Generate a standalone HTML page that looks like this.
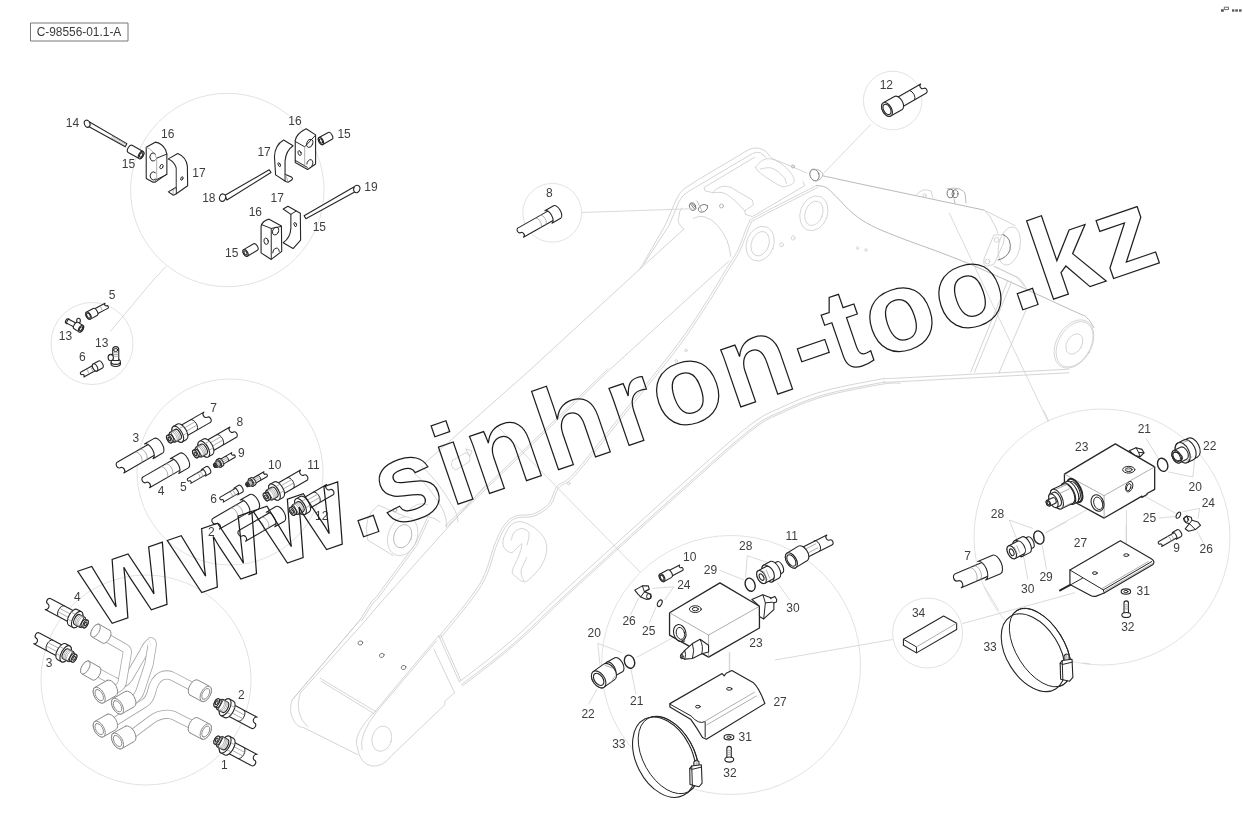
<!DOCTYPE html>
<html><head><meta charset="utf-8"><title>C-98556-01.1-A</title>
<style>
html,body{margin:0;padding:0;background:#fff;}
body{width:1243px;height:825px;overflow:hidden;position:relative;font-family:"Liberation Sans",sans-serif;}
svg{position:absolute;left:0;top:0;display:block;will-change:transform;opacity:.999}
svg text{font-family:"Liberation Sans",sans-serif;}
svg text.wm{font-family:"Liberation Sans",sans-serif;font-weight:bold;fill:none;stroke:#1c1c1c;stroke-width:1.25;stroke-linejoin:miter}
path,ellipse,circle,rect,line,polyline{vector-effect:non-scaling-stroke}
.lbl{font-size:12px;fill:#3e3e3e;}
.boom path,.boom ellipse,.boom circle{fill:none;stroke:#cacaca;stroke-width:.8;stroke-linecap:round;stroke-linejoin:round}
.boom .g2{stroke:#a8a8a8}
.boom .g3{stroke:#6a6a6a;stroke-width:.9}
.c{fill:none;stroke:#dadada;stroke-width:.8}
.l{fill:none;stroke:#d0d0d0;stroke-width:0.8}
.d{fill:#fff;stroke:#262626;stroke-width:1.1;stroke-linejoin:round;stroke-linecap:round}
.dn{fill:none;stroke:#262626;stroke-width:1;stroke-linejoin:round;stroke-linecap:round}
.t{fill:none;stroke:#8c8c8c;stroke-width:0.7;stroke-linecap:round}
.m{fill:#fff;stroke:#8a8a8a;stroke-width:1;stroke-linejoin:round;stroke-linecap:round}
</style></head><body>
<svg width="1243" height="825" viewBox="0 0 1243 825">
<rect width="1243" height="825" fill="#fff"/>
<rect x="30.5" y="23" width="97.5" height="18" fill="#fff" stroke="#777" stroke-width="1"/>
<text x="79" y="36.3" text-anchor="middle" font-size="11.9" fill="#3a3a3a">C-98556-01.1-A</text>
<circle class="c" cx="227.3" cy="190" r="96.7"/>
<circle class="c" cx="92" cy="343.5" r="41"/>
<circle class="c" cx="230" cy="472" r="93"/>
<circle class="c" cx="146" cy="680" r="105"/>
<circle class="c" cx="552.2" cy="212.8" r="29.4"/>
<circle class="c" cx="892.7" cy="100.5" r="29.3"/>
<circle class="c" cx="731" cy="665" r="129.5"/>
<circle class="c" cx="1102" cy="537" r="128"/>
<circle class="c" cx="927.6" cy="633" r="35"/>
<g class="boom"><path class="d" d="M360,620 L292.1,700 Q288,712 294.5,721.8 Q298,727 304.2,727.8 L357.5,754.5"/><path class="d" d="M366,620 L300.6,692.7 Q296,705 300.6,716.9 Q303,723 307.9,726.6"/><path class="d" d="M320,678.2 L375.7,711.6 M321,681.2 L374,713.6"/><path class="d" d="M438.7,635.8 L374.5,712.1 Q352,735 357.5,748 Q360,764 372.1,766.1 Q383,767 391.5,755.7 L444.8,704.8 L444.8,701.2 L454.5,692.7"/><path class="d" d="M436.5,641 L378,710 Q358,735 362,750"/><ellipse class="d" cx="381.8" cy="738.7" rx="9.7" ry="12.8" transform="rotate(15 381.8 738.7)"/><path class="d" d="M438.7,635.8 L459.3,681.8 M440.6,634.8 L461,680.5 M433.9,649.1 L454.5,692.7"/><path class="g" d="M292.1,700 L343,640 L360,620"/><path class="g" d="M360,620 L371.7,601.2 L376.1,597.3 L415.3,544 L426.9,518.8 L430.8,513"/><path class="g" d="M361.5,621 L373,603 L377.5,599 L417,545 L428.5,520"/><path class="g" d="M366,620 L378.5,605 L485.1,485.8"/><path class="g" d="M459.3,681.8 C468.1,674.8 493.8,656 512.2,640 C530.7,624 540.9,612.4 570,585.7 C599.1,559 656.7,506.7 686.6,480 C716.5,453.3 734,437.4 749.6,425.4 C765.2,413.4 767.9,413.6 780,408 C792.1,402.4 805.6,396.3 822.3,391.5 C839,386.7 867,381.6 880,379.3 C893,377.1 868.5,379.7 900,378 C931.5,376.3 1040.6,370.7 1068.7,369.2"/><path class="g" d="M461.5,684.6 C470.4,677.6 496.1,658.8 514.6,642.7 C533,626.7 543.4,615 572.4,588.4 C601.5,561.7 659.1,509.4 689,482.7 C718.9,456 736.4,440.2 751.8,428.3 C767.2,416.3 769.6,416.8 781.5,411.3 C793.4,405.7 806.8,399.7 823.3,395 C839.8,390.2 867.8,385.1 880.6,382.8 C893.4,380.6 868.8,383.3 900.2,381.6 C931.6,379.9 1040.8,374.3 1068.9,372.8"/><path class="g" d="M462.5,685.9 C471.4,678.9 497.1,660 515.6,643.9 C534.1,627.9 544.4,616.2 573.5,589.5 C602.6,562.9 660.2,510.5 690.1,483.9 C719.9,457.2 737.4,441.4 752.8,429.5 C768.1,417.7 770.4,418.2 782.2,412.7 C794,407.2 807.3,401.2 823.7,396.5 C840.2,391.8 868.1,386.6 880.9,384.4 C893.6,382.2 897,383.4 900.3,383.2"/><ellipse class="d" cx="402.7" cy="536.2" rx="14.5" ry="20" transform="rotate(20 402.7 536.2)"/><path class="d" d="M378.5,505.2 Q362,516 367.8,540.1 L393,555.5 M378.5,505.2 L405,516.5"/><circle class="g2" cx="395" cy="510" r="1.8"/><ellipse class="g2" cx="402.7" cy="536.2" rx="8.7" ry="12" transform="rotate(20 402.7 536.2)"/><path class="g" d="M421,466 Q436,478 452,505 Q458,515 458,522"/><path class="g" d="M414,473 Q428,484 442,508 Q448,520 446,527"/><path class="d" d="M407,512 Q418,500 428,505 M415,520 Q428,512 440,522"/><path class="d" d="M452.5,460.5 L466,452.5 Q472,456 469,462 L456,470 Q449,467 452.5,460.5 Z"/><path d="M466,449 L472,451 L470,456 Z" fill="#8a8a8a" stroke="#8a8a8a" stroke-width="1"/><path class="g" d="M425,463 L530,370 L641,268 L684,229"/><path class="g" d="M446.5,527 L609.4,370 L729,261"/><path class="g" d="M445.3,525.7 L608.2,368.7"/><path class="g" d="M438.6,637 C445.4,628.3 469.9,600.2 479.3,584.7 C488.7,569.2 490.6,554 494.8,544 C499,534 500.9,529.3 504.5,524.6 C508.1,519.9 511.2,517.7 516.1,515.9 C521,514.1 528.1,516 533.6,513.9 C539.1,511.8 545.2,507.9 549.1,503.3 C553,498.7 552.8,491.4 557,486.3 C561.2,481.2 563.1,485.5 574.5,472.8 C585.9,460.1 608.4,431 625.3,410 C642.2,389 662.5,364.5 675.7,346.9 C689,329.3 696.4,317.2 704.8,304.3 C713.2,291.4 720.6,278.4 726.1,269.4 C731.6,260.3 734,257.7 737.8,250 C741.5,242.3 745.5,229 748.6,223.4 C751.7,217.8 745,222.9 756.3,216.6 C767.6,210.3 806.4,190.8 816.4,185.6"/><path class="g" d="M440.3,638.4 C447.1,629.6 471.8,601.4 481.2,585.8 C490.6,570.3 492.7,554.8 496.8,544.9 C501,534.9 502.9,530.4 506.3,525.9 C509.6,521.4 512.2,519.6 516.9,518 C521.5,516.3 528.7,518.2 534.4,516 C540,513.7 546.7,509.4 550.8,504.7 C554.8,500 554.5,492.8 558.7,487.7 C562.9,482.6 564.8,487 576.1,474.3 C587.5,461.5 610.1,432.4 627,411.4 C643.9,390.4 664.2,365.9 677.5,348.2 C690.7,330.6 698.2,318.4 706.6,305.5 C715.1,292.6 722.5,279.6 728,270.5 C733.5,261.5 736,258.6 739.8,251 C743.5,243.3 747.6,229.9 750.5,224.5 C753.5,219.1 746.2,224.7 757.4,218.5 C768.5,212.4 807.4,192.7 817.4,187.6"/><path class="g" d="M503.5,538.2 C504.6,536.1 507.4,528.4 510.3,525.6 C513.2,522.9 516.8,521.2 521,521.7 C525.2,522.2 531.5,525.4 535.5,528.5 C539.5,531.6 543.4,535.9 545.2,540.1 C547,544.3 547,549.2 546.2,553.7 C545.4,558.2 543.1,563 540.4,567.2 C537.6,571.4 532.5,576.5 529.7,578.9 C527,581.3 526.2,582.1 523.9,581.8 C521.6,581.5 518,578.7 516.1,576.9 C514.2,575.1 511.7,574.6 512.2,571.1 C512.7,567.6 517.4,560.1 519,555.6 C520.6,551.1 522,545.5 521.9,544 C521.8,542.5 519.9,545.4 518.1,546.9 C516.3,548.4 513.7,552.7 511.3,552.7 C508.9,552.7 504.8,549.3 503.5,546.9 C502.2,544.5 503.5,539.7 503.5,538.2"/><path class="g" d="M511.3,540.1 C511.8,538.8 512.4,534.2 514.2,532.3 C516,530.4 519.4,528.4 521.9,528.5 C524.4,528.6 528.1,530.2 529,533 C529.9,535.8 527.3,543 527,545"/><path class="g" d="M526.8,557.6 C525.8,559.9 521.5,567.2 521,571.1 C520.5,575 523.5,579.4 524,581"/><circle class="g" cx="685.8" cy="350.4" r="1.3"/><circle class="g" cx="676.3" cy="360.9" r="1.3"/><circle class="g" cx="568.7" cy="483.4" r="1.3"/><ellipse class="g3" cx="360.4" cy="643" rx="2.4" ry="2" transform="rotate(-20 360.4 643)"/><ellipse class="g3" cx="381.8" cy="655.4" rx="2.4" ry="2" transform="rotate(-20 381.8 655.4)"/><ellipse class="g3" cx="403.6" cy="667.5" rx="2.4" ry="2" transform="rotate(-20 403.6 667.5)"/><path class="d" d="M640,268.9 L665.2,225.3 L676.8,198.2 Q680,192 684.6,188.5 L698.2,179.7 L748.6,149.7 Q753,147.5 758.3,148.1 Q763,149 766,151.6 L771.8,158.4 L793.2,167.1 L806.7,173"/><path class="d" d="M643.9,264 L669.1,225.3 L678.8,202 Q682,195 688.5,191.4 L752.4,153.6 Q757,151.5 760.2,152.6 L766,157.4"/><path class="d" d="M754.4,157.4 L704,187.5 L705,190.8 L712.7,192.7 Q716,188 721.4,186.5 Q726,185.5 731.1,187.5 L752.4,200.1 L753.4,204.9 L744.7,210.8 L745.7,214.6 L752.4,216.6 L804.8,185.6 L802.9,181.7"/><path class="d" d="M712.7,192.7 Q717,192 722,192.5 Q730,194 744.7,210.8"/><path class="g" d="M755.4,167.1 C756.9,165.8 760.7,160.5 764.1,159.4 C767.5,158.3 771.5,158.5 775.7,160.4 C779.9,162.3 786.2,167.4 789.3,171 C792.4,174.6 794.8,179.1 794.1,181.7 C793.5,184.3 788.1,186 785.4,186.5 C782.7,187 781.9,186.8 777.7,184.6 C773.5,182.3 763.9,175.9 760.2,173 C756.5,170.1 756.2,168.1 755.4,167.1"/><path class="g" d="M760.2,169.1 C762.1,168.9 767.9,166.8 771.8,168.1 C775.7,169.4 781.1,174.2 783.5,176.8 C785.9,179.4 785.9,182.5 786.4,183.6"/><path class="d" d="M683.6,229.2 Q676,222 678.8,217.6 Q679,211 681.7,207.9"/><path class="d" d="M693.3,218.5 Q698,215.5 704,216.6 Q712,219 717.5,225.3 Q724,233 727.2,240.8 Q730,249 730.7,256.3"/><ellipse class="d" cx="760.2" cy="243.7" rx="13.6" ry="17.8" transform="rotate(20 760.2 243.7)"/><ellipse class="d" cx="760.2" cy="243.7" rx="8.7" ry="12.6" transform="rotate(20 760.2 243.7)"/><ellipse class="d" cx="813.9" cy="213.3" rx="13.6" ry="17.8" transform="rotate(20 813.9 213.3)"/><ellipse class="d" cx="813.9" cy="213.3" rx="8.7" ry="12.6" transform="rotate(20 813.9 213.3)"/><ellipse class="g" cx="781.5" cy="244.7" rx="1.8" ry="2.2" transform="rotate(20 781.5 244.7)"/><ellipse class="g" cx="793.2" cy="237.9" rx="1.8" ry="2.2" transform="rotate(20 793.2 237.9)"/><ellipse class="g" cx="857.5" cy="248" rx="1.1" ry="1.4" transform="rotate(20 857.5 248)"/><ellipse class="g" cx="865.9" cy="249.9" rx="1.1" ry="1.4" transform="rotate(20 865.9 249.9)"/><ellipse class="g3" cx="692.6" cy="206.6" rx="3" ry="4" transform="rotate(-20 692.6 206.6)"/><path class="g3" d="M690.5,204 L694.5,209 M692,203.5 L696,208"/><ellipse class="g3" cx="703" cy="208.3" rx="5" ry="3.4" transform="rotate(-30 703 208.3)"/><path class="g2" d="M697,201 L702,211"/><circle class="g2" cx="721.5" cy="206" r="2"/><ellipse class="g3" cx="814.5" cy="175" rx="4.5" ry="6" transform="rotate(-20 814.5 175)"/><path class="g2" d="M812,170 Q820,168 823,174 Q822,180 816,181"/><circle class="g2" cx="793" cy="166.5" r="1.5"/><path class="g2" d="M823.2,175.9 L860,183.9 L984.1,210.1"/><path class="g2" d="M816.4,185.6 C818,185.9 822.9,185.7 826.1,187.5 C829.3,189.3 831.3,191.8 835.8,196.2 C840.3,200.6 847.3,208.8 853.3,213.7 C859.3,218.6 864,221.7 871.6,225.6 C879.2,229.5 882.3,230.7 898.8,237.2 C915.3,243.7 941.8,252.3 970.5,264.4 C999.2,276.5 1052,301.2 1071.3,310 C1090.6,318.8 1082.3,314 1086.1,316.9 C1089.9,319.8 1092.6,325.8 1093.9,327.6"/><path class="d" d="M984.1,210.1 Q991,216 993.8,223.7 Q997,229 997.7,233.4"/><path class="d" d="M993.8,235.3 L984.1,258.6 Q983,266 986,266.3 L993.8,264.4 L1003.5,243.1 L1004.4,235.3 Z"/><circle class="g" cx="996.7" cy="239.8" r="2.4"/><circle class="g" cx="987.4" cy="261.5" r="2.4"/><ellipse class="d" cx="1009.3" cy="246" rx="10.7" ry="19.4" transform="rotate(12 1009.3 246)"/><path class="g3" d="M1003,234.5 Q1012,238 1010,250 Q1007,258 998,260"/><path class="d" d="M986,211.1 L1015.1,225.6 M993.8,266.3 L1019,278 Q1024,283 1026.7,289.6 M995,266.5 L1016.3,277.1 Q1021,281 1024.1,285.9"/><path class="d" d="M916,195.5 Q922,187 931,191 L933,198"/><circle class="g" cx="924.5" cy="195.5" r="1.6"/><ellipse class="g3" cx="950.5" cy="193.5" rx="3.4" ry="4.2"/><ellipse class="g3" cx="955" cy="193.8" rx="3" ry="4"/><path class="g2" d="M947,189 Q960,186 965,193 L966,203 M954,199 L955,203"/><path class="d" d="M1007.6,281 L970.8,372.1 M1011.5,282 L974.6,372.1 M1026,310.1 L998.9,373.1"/><ellipse class="d" cx="1074" cy="344" rx="17.4" ry="26" transform="rotate(30 1074 344)"/><ellipse class="d" cx="1074.6" cy="344.3" rx="16" ry="24.5" transform="rotate(30 1074.6 344.3)"/><ellipse class="d" cx="1074.3" cy="344" rx="7.5" ry="11" transform="rotate(30 1074.3 344)"/></g>
<path class="l" d="M581.6,212.5 L692.4,208.7"/>
<path class="l" d="M871,124.2 L823.4,173.5"/>
<path class="l" d="M949.2,213 L1048,421.4"/>
<path class="l" d="M497,426 L640,572"/>
<path class="l" d="M775,660 L892.6,639.5"/>
<g transform="translate(60,100) scale(0.14540)">
<path class="d" d="M203,151 L460,300 L449,322 L197,182 Z"/>
<path class="t" d="M360,250 L452,304 M352,260 L447,314"/>
<ellipse class="d" cx="187" cy="163" rx="19" ry="25" transform="rotate(-20 187 163)"/>
<path class="d" d="M468.5,360.5 L544.5,402.5 A28,15.4 118.9 0 0 571.5,353.5 L495.5,311.5 A28,15.4 118.9 0 0 468.5,360.5 Z"/><ellipse class="d" cx="558" cy="378" rx="28" ry="15.4" transform="rotate(118.9 558 378)"/><ellipse class="d" cx="558" cy="378" rx="16.8" ry="9.2" transform="rotate(118.9 558 378)"/>
<path class="d" d="M593,325 L655,290 Q700,296 726,342 L735,372 L735,510 L655,565 L640,565 L593,540 Z"/>
<path class="dn" d="M665,400 L735,372 M655,552 L735,512"/>
<path class="t" d="M665,400 L665,545 M593,325 Q640,340 665,400"/>
<path class="dn" d="M656,372 A22,28 0 1 0 656,412 M656,500 A22,28 0 1 0 656,544"/>
<ellipse class="dn" cx="698" cy="458" rx="10" ry="16" transform="rotate(25 698 458)"/>
<path class="d" d="M745,405 L810,368 Q868,392 876,455 L878,590 L800,645 L780,655 L745,632 L790,605 L800,600 L800,470 Q790,425 745,405 Z"/>
<path class="dn" d="M800,600 L800,645"/>
<path class="t" d="M790,605 Q768,625 780,655 M800,470 L800,600"/>
<ellipse class="dn" cx="838" cy="540" rx="7" ry="13" transform="rotate(25 838 540)"/>
</g>
<g transform="translate(200,100) scale(0.14540)">
<path class="d" d="M172,655 L476,480 L488,498 L185,688 Z"/>
<ellipse class="d" cx="155" cy="672" rx="21" ry="26" transform="rotate(20 155 672)"/>
<path class="d" d="M1058,598 L716,796 L728,816 L1070,630 Z"/>
<ellipse class="d" cx="1078" cy="612" rx="21" ry="26" transform="rotate(20 1078 612)"/>
<path class="d" d="M575,275 L640,315 Q590,350 585,420 L585,510 L632,532 Q648,548 605,565 L590,560 L520,515 L512,390 Q515,310 575,275 Z"/>
<path class="dn" d="M585,510 L585,556"/>
<path class="t" d="M585,510 Q602,540 605,565"/>
<ellipse class="dn" cx="545" cy="445" rx="7" ry="15" transform="rotate(-25 545 445)"/>
<path class="d" d="M655,278 Q662,232 730,198 L795,240 L795,440 L740,478 L655,430 Z"/>
<path class="dn" d="M655,285 L720,322 L795,242 M655,415 L738,463"/>
<path class="t" d="M720,322 L720,466"/>
<ellipse class="dn" cx="755" cy="298" rx="20" ry="29" transform="rotate(20 755 298)"/>
<path class="dn" d="M735,440 A20,27 20 1 1 770,452"/>
<ellipse class="dn" cx="685" cy="365" rx="10" ry="17" transform="rotate(-20 685 365)"/>
<path class="d" d="M881.9,223.4 L818.9,258.4 A27,14.9 -119.1 0 0 845.1,305.6 L908.1,270.6 A27,14.9 -119.1 0 0 881.9,223.4 Z"/><ellipse class="d" cx="832" cy="282" rx="27" ry="14.9" transform="rotate(-119.1 832 282)"/><ellipse class="d" cx="832" cy="282" rx="16.2" ry="8.9" transform="rotate(-119.1 832 282)"/>
</g>
<g transform="translate(200,170) scale(0.14540)">
<path class="d" d="M420,388 Q428,350 475,338 L560,385 L562,560 L490,615 L420,570 Z"/>
<path class="dn" d="M422,375 L490,402 L560,388 M490,402 L490,612"/>
<ellipse class="dn" cx="520" cy="420" rx="20" ry="28" transform="rotate(20 520 420)"/>
<path class="dn" d="M500,570 A20,27 20 1 1 545,560"/>
<ellipse class="dn" cx="455" cy="490" rx="15" ry="22" transform="rotate(-10 455 490)"/>
<path class="d" d="M572,268 L605,250 L690,297 L692,482 L640,540 L572,500 Q622,465 625,400 L625,305 Z"/>
<path class="dn" d="M625,305 L660,283"/>
<ellipse class="dn" cx="655" cy="375" rx="8" ry="15" transform="rotate(-20 655 375)"/>
<path class="d" d="M369,507.5 L300,547.5 A26,14.3 -120.1 0 0 326,592.5 L395,552.5 A26,14.3 -120.1 0 0 369,507.5 Z"/><ellipse class="d" cx="313" cy="570" rx="26" ry="14.3" transform="rotate(-120.1 313 570)"/><ellipse class="d" cx="313" cy="570" rx="15.6" ry="8.6" transform="rotate(-120.1 313 570)"/>
</g>
<text class="lbl" x="65.8" y="126.9">14</text>
<text class="lbl" x="161" y="137.8">16</text>
<text class="lbl" x="121.8" y="168.3">15</text>
<text class="lbl" x="192.3" y="177.1">17</text>
<text class="lbl" x="288.3" y="124.7">16</text>
<text class="lbl" x="337.4" y="138.1">15</text>
<text class="lbl" x="257.4" y="156.4">17</text>
<text class="lbl" x="202.2" y="202.3">18</text>
<text class="lbl" x="364.3" y="191">19</text>
<text class="lbl" x="270.5" y="201.9">17</text>
<text class="lbl" x="248.7" y="215.5">16</text>
<text class="lbl" x="312.7" y="231.1">15</text>
<text class="lbl" x="225" y="256.9">15</text>
<path class="l" d="M153.3,280 L110.3,331.5"/>
<path class="l" d="M166.2,266.3 L153.3,280"/>
<g transform="translate(40,280) scale(0.12116)">
<path class="d" d="M536.8,191.8 L443.8,240.8 A24,12 -117.8 0 0 466.2,283.2 L559.2,234.2 A12,9.6 -117.8 0 0 549.6,212.2 A12,9.6 -117.8 0 1 536.8,191.8 Z"/>
<path class="t" d="M455,245 L470,275 M500,222 L515,252"/>
<path class="d" d="M439.2,235 L384.2,265 A33,18.2 -118.6 0 0 415.8,323 L470.8,293 A33,18.2 -118.6 0 0 439.2,235 Z"/><ellipse class="d" cx="400" cy="294" rx="33" ry="18.2" transform="rotate(-118.6 400 294)"/><ellipse class="d" cx="400" cy="294" rx="23.1" ry="12.7" transform="rotate(-118.6 400 294)"/>
<ellipse class="d" cx="228" cy="340" rx="16" ry="22" transform="rotate(30 228 340)"/>
<path class="d" d="M223.7,358 L296.7,396 A18,9 117.5 0 0 313.3,364 L240.3,326 A18,9 117.5 0 0 223.7,358 Z"/>
<ellipse class="d" cx="318" cy="336" rx="15" ry="20"/>
<path class="d" d="M281.1,402 L321.1,428 A31,17.1 123 0 0 354.9,376 L314.9,350 A31,17.1 123 0 0 281.1,402 Z"/><ellipse class="d" cx="338" cy="402" rx="31" ry="17.1" transform="rotate(123 338 402)"/><ellipse class="d" cx="338" cy="402" rx="18.6" ry="10.2" transform="rotate(123 338 402)"/>
<path class="d" d="M443.4,701 L338.4,759 A12,9.6 -118.9 0 0 348.4,780.9 A12,9.6 -118.9 0 1 361.6,801 L466.6,743 A24,12 -118.9 0 0 443.4,701 Z"/>
<path class="d" d="M484,668.2 L439,693.2 A33,18.2 -119.1 0 0 471,750.8 L516,725.8 A33,18.2 -119.1 0 0 484,668.2 Z"/><ellipse class="d" cx="455" cy="722" rx="33" ry="18.2" transform="rotate(-119.1 455 722)"/>
<path class="t" d="M420,722 L435,752 M390,740 L402,768"/>
<ellipse class="d" cx="625" cy="690" rx="40" ry="24"/>
<ellipse class="d" cx="625" cy="674" rx="38" ry="22"/>
<path class="d" d="M600,665 L600,575 A25,25 0 0 1 650,575 L650,665 Z"/>
<ellipse class="dn" cx="625" cy="578" rx="18" ry="12"/>
<ellipse class="d" cx="584" cy="640" rx="22" ry="26"/>
<path class="t" d="M605,600 L645,600 M605,615 L645,615 M605,630 L645,630"/>
</g>
<text class="lbl" x="108.8" y="298.8">5</text>
<text class="lbl" x="58.8" y="340.3">13</text>
<text class="lbl" x="95.1" y="347">13</text>
<text class="lbl" x="79" y="360.6">6</text>
<g transform="translate(110,390) scale(0.12116)">
<path class="d" d="M321.8,445 L62,595 A26,20.8 -120 0 0 84.6,642 A26,20.8 -120 0 1 114,685 L373.8,535 A52,26 -120 0 0 321.8,445 Z"/><path class="t" d="M257.9,602 A52,26 60 0 0 205.9,511.9"/><path class="t" d="M299.7,577.8 A52,26 60 0 0 247.7,487.8"/><path class="d" d="M364.8,399.4 L285.1,445.4 A70,35 -120 0 1 355.1,566.6 L434.8,520.6 A70,35 -120 0 0 364.8,399.4 Z"/>
<path class="d" d="M775,182.7 L568.9,301.7 A50,25 -120 0 0 618.9,388.3 L825,269.3 A25,20 -120 0 0 803.3,224.1 A25,20 -120 0 1 775,182.7 Z"/><path class="dn" d="M715.8,332.4 A50,25 60 0 0 665.8,245.8"/><path class="t" d="M610.9,314.4 L699.1,263.5"/><path class="t" d="M626.9,342.1 L718.6,289.2"/><path class="d" d="M556.9,280.9 L522.3,300.9 A74,37 -120 0 0 596.3,429.1 L630.9,409.1 A74,37 -120 0 0 556.9,280.9 Z"/><ellipse class="d" cx="559.3" cy="365" rx="74" ry="37" transform="rotate(-120 559.3 365)"/><path class="t" d="M571.7,318.6 L606.4,298.6"/><path class="t" d="M605.5,373 L640.1,353"/><path class="d" d="M536.3,325.2 L496.4,348.2 A46,23 -120 0 0 542.4,427.8 L582.3,404.8 A46,23 -120 0 0 536.3,325.2 Z"/><path class="d" d="M542.4,427.8 L521.4,427.3 L486.4,366.7 L496.4,348.2 Z" style="stroke-width:.9"/><path class="d" d="M486.4,366.7 L472.5,374.7 A35,17.5 -120 0 0 507.5,435.3 L521.4,427.3 A35,17.5 -120 0 0 486.4,366.7 Z"/><ellipse class="d" cx="490" cy="405" rx="35" ry="17.5" transform="rotate(-120 490 405)"/><ellipse class="d" cx="490" cy="405" rx="17.5" ry="8.8" transform="rotate(-120 490 405)"/><path class="t" d="M547.6,424.8 A46,23 60 0 0 501.6,345.2"/><path class="t" d="M558.7,418.4 A46,23 60 0 0 512.7,338.8"/><path class="t" d="M569.8,412 A46,23 60 0 0 523.8,332.4"/>
<path class="d" d="M533.8,567 L274,717 A26,20.8 -120 0 0 296.6,764 A26,20.8 -120 0 1 326,807 L585.8,657 A52,26 -120 0 0 533.8,567 Z"/><path class="t" d="M469.9,724 A52,26 60 0 0 417.9,633.9"/><path class="t" d="M511.7,699.8 A52,26 60 0 0 459.7,609.8"/><path class="d" d="M576.8,521.4 L497.1,567.4 A70,35 -120 0 1 567.1,688.6 L646.8,642.6 A70,35 -120 0 0 576.8,521.4 Z"/>
<path class="d" d="M990,305.7 L783.9,424.7 A50,25 -120 0 0 833.9,511.3 L1040,392.3 A25,20 -120 0 0 1018.3,347.1 A25,20 -120 0 1 990,305.7 Z"/><path class="dn" d="M930.8,455.4 A50,25 60 0 0 880.8,368.8"/><path class="t" d="M825.9,437.4 L914.1,386.5"/><path class="t" d="M841.9,465.1 L933.6,412.2"/><path class="d" d="M771.9,403.9 L737.3,423.9 A74,37 -120 0 0 811.3,552.1 L845.9,532.1 A74,37 -120 0 0 771.9,403.9 Z"/><ellipse class="d" cx="774.3" cy="488" rx="74" ry="37" transform="rotate(-120 774.3 488)"/><path class="t" d="M786.7,441.6 L821.4,421.6"/><path class="t" d="M820.5,496 L855.1,476"/><path class="d" d="M751.3,448.2 L711.4,471.2 A46,23 -120 0 0 757.4,550.8 L797.3,527.8 A46,23 -120 0 0 751.3,448.2 Z"/><path class="d" d="M757.4,550.8 L736.4,550.3 L701.4,489.7 L711.4,471.2 Z" style="stroke-width:.9"/><path class="d" d="M701.4,489.7 L687.5,497.7 A35,17.5 -120 0 0 722.5,558.3 L736.4,550.3 A35,17.5 -120 0 0 701.4,489.7 Z"/><ellipse class="d" cx="705" cy="528" rx="35" ry="17.5" transform="rotate(-120 705 528)"/><ellipse class="d" cx="705" cy="528" rx="17.5" ry="8.8" transform="rotate(-120 705 528)"/><path class="t" d="M762.6,547.8 A46,23 60 0 0 716.6,468.2"/><path class="t" d="M773.7,541.4 A46,23 60 0 0 727.7,461.8"/><path class="t" d="M784.8,535 A46,23 60 0 0 738.8,455.4"/>
<path class="d" d="M1005.2,516.9 L904.2,575.2 A23.5,11.8 -120 0 0 927.7,616 L1028.7,557.6 A11.8,9.4 -120 0 0 1018.4,536.4 A11.8,9.4 -120 0 1 1005.2,516.9 Z"/><path class="dn" d="M975.1,588.5 A23.5,11.8 60 0 0 951.6,547.8"/><path class="t" d="M924,581.1 L967.3,556.2"/><path class="t" d="M931.6,594.2 L976.4,568.3"/><path class="d" d="M898.5,565.5 L881.6,575.3 A34.8,17.4 -120 0 0 916.3,635.5 L933.3,625.7 A34.8,17.4 -120 0 0 898.5,565.5 Z"/><ellipse class="d" cx="898.9" cy="605.4" rx="34.8" ry="17.4" transform="rotate(-120 898.9 605.4)"/><path class="t" d="M904.8,583.6 L921.8,573.8"/><path class="t" d="M920.7,609.2 L937.6,599.4"/><path class="d" d="M888.1,586.7 L868.6,597.9 A21.6,10.8 -120 0 0 890.2,635.4 L909.8,624.1 A21.6,10.8 -120 0 0 888.1,586.7 Z"/><path class="d" d="M890.2,635.4 L880,635.3 L863.6,606.8 L868.6,597.9 Z" style="stroke-width:.9"/><path class="d" d="M863.6,606.8 L856.8,610.8 A16.4,8.2 -120 0 0 873.2,639.2 L880,635.3 A16.4,8.2 -120 0 0 863.6,606.8 Z"/><ellipse class="d" cx="865" cy="625" rx="16.4" ry="8.2" transform="rotate(-120 865 625)"/><ellipse class="d" cx="865" cy="625" rx="8.2" ry="4.1" transform="rotate(-120 865 625)"/><path class="t" d="M892.8,633.9 A21.6,10.8 60 0 0 871.2,596.5"/><path class="t" d="M898.2,630.8 A21.6,10.8 60 0 0 876.6,593.3"/><path class="t" d="M903.6,627.7 A21.6,10.8 60 0 0 882,590.2"/>
<path class="d" d="M771.8,654.9 L643,729.3 A12,9.6 -120 0 0 653.4,750.9 A12,9.6 -120 0 1 667,770.7 L795.8,696.4 A23.9,12 -120 0 0 771.8,654.9 Z"/><path class="t" d="M738.9,729.2 A23.9,12 60 0 0 715,687.7"/><path class="t" d="M759.8,717.1 A23.9,12 60 0 0 735.9,675.7"/><path class="d" d="M794.8,632.1 L754.9,655.1 A32.2,16.1 -120 0 1 787.1,710.9 L827,687.9 A32.2,16.1 -120 0 0 794.8,632.1 Z"/>
<path class="d" d="M1271,674.6 L1170,732.9 A23.5,11.8 -120 0 0 1193.5,773.7 L1294.5,715.3 A11.8,9.4 -120 0 0 1284.2,694.1 A11.8,9.4 -120 0 1 1271,674.6 Z"/><path class="dn" d="M1240.9,746.2 A23.5,11.8 60 0 0 1217.4,705.5"/><path class="t" d="M1189.8,738.8 L1233.1,713.9"/><path class="t" d="M1197.4,751.9 L1242.2,726"/><path class="d" d="M1164.3,723.2 L1147.4,733 A34.8,17.4 -120 0 0 1182.1,793.2 L1199.1,783.4 A34.8,17.4 -120 0 0 1164.3,723.2 Z"/><ellipse class="d" cx="1164.7" cy="763.1" rx="34.8" ry="17.4" transform="rotate(-120 1164.7 763.1)"/><path class="t" d="M1170.6,741.3 L1187.6,731.5"/><path class="t" d="M1186.5,766.9 L1203.4,757.1"/><path class="d" d="M1153.9,744.4 L1134.4,755.6 A21.6,10.8 -120 0 0 1156,793.1 L1175.6,781.8 A21.6,10.8 -120 0 0 1153.9,744.4 Z"/><path class="d" d="M1156,793.1 L1145.8,793 L1129.4,764.5 L1134.4,755.6 Z" style="stroke-width:.9"/><path class="d" d="M1129.4,764.5 L1122.6,768.5 A16.4,8.2 -120 0 0 1139,796.9 L1145.8,793 A16.4,8.2 -120 0 0 1129.4,764.5 Z"/><ellipse class="d" cx="1130.8" cy="782.7" rx="16.4" ry="8.2" transform="rotate(-120 1130.8 782.7)"/><ellipse class="d" cx="1130.8" cy="782.7" rx="8.2" ry="4.1" transform="rotate(-120 1130.8 782.7)"/><path class="t" d="M1158.6,791.6 A21.6,10.8 60 0 0 1137,754.2"/><path class="t" d="M1164,788.5 A21.6,10.8 60 0 0 1142.4,751"/><path class="t" d="M1169.4,785.4 A21.6,10.8 60 0 0 1147.8,747.9"/>
<path class="d" d="M1039.6,809.6 L910.8,884 A12,9.6 -120 0 0 921.2,905.6 A12,9.6 -120 0 1 934.8,925.4 L1063.6,851.1 A23.9,12 -120 0 0 1039.6,809.6 Z"/><path class="t" d="M1006.7,883.9 A23.9,12 60 0 0 982.8,842.4"/><path class="t" d="M1027.6,871.8 A23.9,12 60 0 0 1003.7,830.4"/><path class="d" d="M1062.6,786.8 L1022.7,809.8 A32.2,16.1 -120 0 1 1054.9,865.6 L1094.8,842.6 A32.2,16.1 -120 0 0 1062.6,786.8 Z"/>
<path class="d" d="M1572.8,660.4 L1366.7,779.4 A50,25 -120 0 0 1416.7,866 L1622.8,747 A25,20 -120 0 0 1601.1,701.8 A25,20 -120 0 1 1572.8,660.4 Z"/><path class="dn" d="M1513.6,810.1 A50,25 60 0 0 1463.6,723.5"/><path class="t" d="M1408.7,792.1 L1496.9,741.2"/><path class="t" d="M1424.7,819.8 L1516.4,766.9"/><path class="d" d="M1354.7,758.6 L1320.1,778.6 A74,37 -120 0 0 1394.1,906.8 L1428.7,886.8 A74,37 -120 0 0 1354.7,758.6 Z"/><ellipse class="d" cx="1357.1" cy="842.7" rx="74" ry="37" transform="rotate(-120 1357.1 842.7)"/><path class="t" d="M1369.5,796.3 L1404.2,776.3"/><path class="t" d="M1403.3,850.7 L1437.9,830.7"/><path class="d" d="M1334.1,802.9 L1294.2,825.9 A46,23 -120 0 0 1340.2,905.5 L1380.1,882.5 A46,23 -120 0 0 1334.1,802.9 Z"/><path class="d" d="M1340.2,905.5 L1319.2,905 L1284.2,844.4 L1294.2,825.9 Z" style="stroke-width:.9"/><path class="d" d="M1284.2,844.4 L1270.3,852.4 A35,17.5 -120 0 0 1305.3,913 L1319.2,905 A35,17.5 -120 0 0 1284.2,844.4 Z"/><ellipse class="d" cx="1287.8" cy="882.7" rx="35" ry="17.5" transform="rotate(-120 1287.8 882.7)"/><ellipse class="d" cx="1287.8" cy="882.7" rx="17.5" ry="8.8" transform="rotate(-120 1287.8 882.7)"/><path class="t" d="M1345.4,902.5 A46,23 60 0 0 1299.4,822.9"/><path class="t" d="M1356.5,896.1 A46,23 60 0 0 1310.5,816.5"/><path class="t" d="M1367.6,889.7 A46,23 60 0 0 1321.6,810.1"/>
<path class="d" d="M1111.6,907.7 L851.8,1057.7 A26,20.8 -120 0 0 874.4,1104.7 A26,20.8 -120 0 1 903.8,1147.7 L1163.6,997.7 A52,26 -120 0 0 1111.6,907.7 Z"/><path class="t" d="M1047.7,1064.7 A52,26 60 0 0 995.7,974.6"/><path class="t" d="M1089.5,1040.5 A52,26 60 0 0 1037.5,950.5"/><path class="d" d="M1154.6,862.1 L1074.9,908.1 A70,35 -120 0 1 1144.9,1029.3 L1224.6,983.3 A70,35 -120 0 0 1154.6,862.1 Z"/>
<path class="d" d="M1787.8,780.4 L1581.7,899.4 A50,25 -120 0 0 1631.7,986 L1837.8,867 A25,20 -120 0 0 1816.1,821.8 A25,20 -120 0 1 1787.8,780.4 Z"/><path class="dn" d="M1728.6,930.1 A50,25 60 0 0 1678.6,843.5"/><path class="t" d="M1623.7,912.1 L1711.9,861.2"/><path class="t" d="M1639.7,939.8 L1731.4,886.9"/><path class="d" d="M1569.7,878.6 L1535.1,898.6 A74,37 -120 0 0 1609.1,1026.8 L1643.7,1006.8 A74,37 -120 0 0 1569.7,878.6 Z"/><ellipse class="d" cx="1572.1" cy="962.7" rx="74" ry="37" transform="rotate(-120 1572.1 962.7)"/><path class="t" d="M1584.5,916.3 L1619.2,896.3"/><path class="t" d="M1618.3,970.7 L1652.9,950.7"/><path class="d" d="M1549.1,922.9 L1509.2,945.9 A46,23 -120 0 0 1555.2,1025.5 L1595.1,1002.5 A46,23 -120 0 0 1549.1,922.9 Z"/><path class="d" d="M1555.2,1025.5 L1534.2,1025 L1499.2,964.4 L1509.2,945.9 Z" style="stroke-width:.9"/><path class="d" d="M1499.2,964.4 L1485.3,972.4 A35,17.5 -120 0 0 1520.3,1033 L1534.2,1025 A35,17.5 -120 0 0 1499.2,964.4 Z"/><ellipse class="d" cx="1502.8" cy="1002.7" rx="35" ry="17.5" transform="rotate(-120 1502.8 1002.7)"/><ellipse class="d" cx="1502.8" cy="1002.7" rx="17.5" ry="8.8" transform="rotate(-120 1502.8 1002.7)"/><path class="t" d="M1560.4,1022.5 A46,23 60 0 0 1514.4,942.9"/><path class="t" d="M1571.5,1016.1 A46,23 60 0 0 1525.5,936.5"/><path class="t" d="M1582.6,1009.7 A46,23 60 0 0 1536.6,930.1"/>
<path class="d" d="M1326.6,1007.7 L1066.8,1157.7 A26,20.8 -120 0 0 1089.4,1204.7 A26,20.8 -120 0 1 1118.8,1247.7 L1378.6,1097.7 A52,26 -120 0 0 1326.6,1007.7 Z"/><path class="t" d="M1262.7,1164.7 A52,26 60 0 0 1210.7,1074.6"/><path class="t" d="M1304.5,1140.5 A52,26 60 0 0 1252.5,1050.5"/><path class="d" d="M1369.6,962.1 L1289.9,1008.1 A70,35 -120 0 1 1359.9,1129.3 L1439.6,1083.3 A70,35 -120 0 0 1369.6,962.1 Z"/>
</g>
<text class="lbl" x="132.4" y="442.1">3</text>
<text class="lbl" x="210.3" y="411.8">7</text>
<text class="lbl" x="236.6" y="425.7">8</text>
<text class="lbl" x="237.9" y="456.7">9</text>
<text class="lbl" x="180" y="490.5">5</text>
<text class="lbl" x="157.8" y="494.6">4</text>
<text class="lbl" x="268.1" y="469.1">10</text>
<text class="lbl" x="307.2" y="468.8">11</text>
<text class="lbl" x="210.3" y="503.3">6</text>
<text class="lbl" x="315.1" y="520">12</text>
<text class="lbl" x="207.9" y="535.7">2</text>
<g transform="translate(70,640) scale(0.16963)">
<path d="M151,185 L260,243 Q310,275 345,225 L431,77 Q455,25 478,12" fill="none" stroke="#a6a6a6" stroke-width="9.2" stroke-linecap="butt" stroke-linejoin="round"/><path d="M151,185 L260,243 Q310,275 345,225 L431,77 Q455,25 478,12" fill="none" stroke="#fff" stroke-width="7.6" stroke-linecap="butt" stroke-linejoin="round"/>
<path d="M222,-10 L325,49 Q340,57 337,77 L308,249 Q304,272 283,283 L245,294" fill="none" stroke="#a6a6a6" stroke-width="9.2" stroke-linecap="butt" stroke-linejoin="round"/><path d="M222,-10 L325,49 Q340,57 337,77 L308,249 Q304,272 283,283 L245,294" fill="none" stroke="#fff" stroke-width="7.6" stroke-linecap="butt" stroke-linejoin="round"/>
<path d="M470,12 Q490,5 483,40 L465,146 L414,300 Q403,334 374,352 L340,363" fill="none" stroke="#a6a6a6" stroke-width="9.2" stroke-linecap="butt" stroke-linejoin="round"/><path d="M470,12 Q490,5 483,40 L465,146 L414,300 Q403,334 374,352 L340,363" fill="none" stroke="#fff" stroke-width="7.6" stroke-linecap="butt" stroke-linejoin="round"/>
<path d="M250,490 L440,372 Q470,350 480,310 Q495,235 540,212 Q570,200 600,212 L730,280" fill="none" stroke="#a6a6a6" stroke-width="9.2" stroke-linecap="butt" stroke-linejoin="round"/><path d="M250,490 L440,372 Q470,350 480,310 Q495,235 540,212 Q570,200 600,212 L730,280" fill="none" stroke="#fff" stroke-width="7.6" stroke-linecap="butt" stroke-linejoin="round"/>
<path d="M360,560 L480,470 Q530,432 590,439 Q610,442 640,460 L730,505" fill="none" stroke="#a6a6a6" stroke-width="9.2" stroke-linecap="butt" stroke-linejoin="round"/><path d="M360,560 L480,470 Q530,432 590,439 Q610,442 640,460 L730,505" fill="none" stroke="#fff" stroke-width="7.6" stroke-linecap="butt" stroke-linejoin="round"/>
<path class="m" d="M236.2,-55.7 L172.2,-92.7 A43,21.5 -60 0 0 129.2,-18.3 L193.2,18.7 A43,21.5 -60 0 0 236.2,-55.7 Z"/><ellipse class="m" cx="150.7" cy="-55.5" rx="43" ry="21.5" transform="rotate(-60 150.7 -55.5)"/>
<path class="m" d="M176.2,161.5 L112.2,124.5 A43,21.5 -60 0 0 69.2,198.9 L133.2,235.9 A43,21.5 -60 0 0 176.2,161.5 Z"/><ellipse class="m" cx="90.7" cy="161.7" rx="43" ry="21.5" transform="rotate(-60 90.7 161.7)"/>
<path class="m" d="M219.1,237.9 L146.1,279.9 A52,28.6 -119.9 0 0 197.9,370.1 L270.9,328.1 A52,28.6 -119.9 0 0 219.1,237.9 Z"/><ellipse class="m" cx="172" cy="325" rx="52" ry="28.6" transform="rotate(-119.9 172 325)"/><ellipse class="m" cx="172" cy="325" rx="36.4" ry="20" transform="rotate(-119.9 172 325)"/>
<path class="m" d="M327.1,302.9 L254.1,344.9 A52,28.6 -119.9 0 0 305.9,435.1 L378.9,393.1 A52,28.6 -119.9 0 0 327.1,302.9 Z"/><ellipse class="m" cx="280" cy="390" rx="52" ry="28.6" transform="rotate(-119.9 280 390)"/><ellipse class="m" cx="280" cy="390" rx="36.4" ry="20" transform="rotate(-119.9 280 390)"/>
<path class="m" d="M219.1,437.9 L146.1,479.9 A52,28.6 -119.9 0 0 197.9,570.1 L270.9,528.1 A52,28.6 -119.9 0 0 219.1,437.9 Z"/><ellipse class="m" cx="172" cy="525" rx="52" ry="28.6" transform="rotate(-119.9 172 525)"/><ellipse class="m" cx="172" cy="525" rx="36.4" ry="20" transform="rotate(-119.9 172 525)"/>
<path class="m" d="M327.1,507.9 L254.1,549.9 A52,28.6 -119.9 0 0 305.9,640.1 L378.9,598.1 A52,28.6 -119.9 0 0 327.1,507.9 Z"/><ellipse class="m" cx="280" cy="595" rx="52" ry="28.6" transform="rotate(-119.9 280 595)"/><ellipse class="m" cx="280" cy="595" rx="36.4" ry="20" transform="rotate(-119.9 280 595)"/>
<path class="m" d="M706.1,323.9 L776.1,361.9 A50,27.5 118.5 0 0 823.9,274.1 L753.9,236.1 A50,27.5 118.5 0 0 706.1,323.9 Z"/><ellipse class="m" cx="800" cy="318" rx="50" ry="27.5" transform="rotate(118.5 800 318)"/><ellipse class="m" cx="800" cy="318" rx="35" ry="19.2" transform="rotate(118.5 800 318)"/>
<path class="m" d="M706.6,547.2 L776.6,584.2 A50,27.5 117.9 0 0 823.4,495.8 L753.4,458.8 A50,27.5 117.9 0 0 706.6,547.2 Z"/><ellipse class="m" cx="800" cy="540" rx="50" ry="27.5" transform="rotate(117.9 800 540)"/><ellipse class="m" cx="800" cy="540" rx="35" ry="19.2" transform="rotate(117.9 800 540)"/>
<path class="d" d="M1103.6,455 L956.5,376.8 A37,18.5 -62 0 0 921.8,442.1 L1068.9,520.3 A18.5,14.8 -62 0 0 1088.7,489 A18.5,14.8 -62 0 1 1103.6,455 Z"/><path class="dn" d="M990.9,478.9 A37,18.5 118 0 0 1025.7,413.5"/><path class="t" d="M964.7,407.9 L1027.6,441.4"/><path class="t" d="M953.6,428.9 L1019.1,463.7"/><path class="d" d="M964.9,361.1 L940.2,347.9 A54.8,27.4 -62 0 0 888.7,444.6 L913.5,457.8 A54.8,27.4 -62 0 0 964.9,361.1 Z"/><ellipse class="d" cx="914.4" cy="396.3" rx="54.8" ry="27.4" transform="rotate(-62 914.4 396.3)"/><path class="t" d="M948.5,385.9 L973.2,399"/><path class="t" d="M927.5,428.4 L952.3,441.5"/><path class="d" d="M930.4,366.2 L902,351.1 A34,17 -62 0 0 870,411.2 L898.5,426.3 A34,17 -62 0 0 930.4,366.2 Z"/><path class="d" d="M870,411.2 L862.7,398.1 L887,352.4 L902,351.1 Z" style="stroke-width:.9"/><path class="d" d="M887,352.4 L877.2,347.1 A25.9,12.9 -62 0 0 852.8,392.9 L862.7,398.1 A25.9,12.9 -62 0 0 887,352.4 Z"/><ellipse class="d" cx="865" cy="370" rx="25.9" ry="12.9" transform="rotate(-62 865 370)"/><ellipse class="d" cx="865" cy="370" rx="12.9" ry="6.5" transform="rotate(-62 865 370)"/><path class="t" d="M873.7,413.2 A34,17 118 0 0 905.7,353.1"/><path class="t" d="M881.7,417.4 A34,17 118 0 0 913.6,357.3"/><path class="t" d="M889.6,421.6 A34,17 118 0 0 921.5,361.5"/>
<path class="d" d="M1103.6,675 L956.5,596.8 A37,18.5 -62 0 0 921.8,662.1 L1068.9,740.3 A18.5,14.8 -62 0 0 1088.7,709 A18.5,14.8 -62 0 1 1103.6,675 Z"/><path class="dn" d="M990.9,698.9 A37,18.5 118 0 0 1025.7,633.5"/><path class="t" d="M964.7,627.9 L1027.6,661.4"/><path class="t" d="M953.6,648.9 L1019.1,683.7"/><path class="d" d="M964.9,581.1 L940.2,567.9 A54.8,27.4 -62 0 0 888.7,664.6 L913.5,677.8 A54.8,27.4 -62 0 0 964.9,581.1 Z"/><ellipse class="d" cx="914.4" cy="616.3" rx="54.8" ry="27.4" transform="rotate(-62 914.4 616.3)"/><path class="t" d="M948.5,605.9 L973.2,619"/><path class="t" d="M927.5,648.4 L952.3,661.5"/><path class="d" d="M930.4,586.2 L902,571.1 A34,17 -62 0 0 870,631.2 L898.5,646.3 A34,17 -62 0 0 930.4,586.2 Z"/><path class="d" d="M870,631.2 L862.7,618.1 L887,572.4 L902,571.1 Z" style="stroke-width:.9"/><path class="d" d="M887,572.4 L877.2,567.1 A25.9,12.9 -62 0 0 852.8,612.9 L862.7,618.1 A25.9,12.9 -62 0 0 887,572.4 Z"/><ellipse class="d" cx="865" cy="590" rx="25.9" ry="12.9" transform="rotate(-62 865 590)"/><ellipse class="d" cx="865" cy="590" rx="12.9" ry="6.5" transform="rotate(-62 865 590)"/><path class="t" d="M873.7,633.2 A34,17 118 0 0 905.7,573.1"/><path class="t" d="M881.7,637.4 A34,17 118 0 0 913.6,577.3"/><path class="t" d="M889.6,641.6 A34,17 118 0 0 921.5,581.5"/>
</g>
<g transform="translate(25,585) scale(0.12116)">
<path class="d" d="M166.8,201.4 L372.7,310.9 A50,25 118 0 0 419.6,222.6 L213.7,113.1 A25,20 118 0 0 186.9,155.5 A25,20 118 0 1 166.8,201.4 Z"/><path class="dn" d="M322.8,171.2 A50,25 -62 0 0 275.9,259.5"/><path class="t" d="M361.4,268.7 L273.3,221.8"/><path class="t" d="M376.4,240.4 L284.8,191.7"/><path class="d" d="M361.4,332.1 L396,350.5 A74,37 118 0 0 465.5,219.9 L430.9,201.5 A74,37 118 0 0 361.4,332.1 Z"/><ellipse class="d" cx="430.8" cy="285.2" rx="74" ry="37" transform="rotate(118 430.8 285.2)"/><path class="t" d="M384.8,299.3 L350.2,280.8"/><path class="t" d="M413.1,241.8 L378.5,223.4"/><path class="d" d="M409.2,325.8 L449,347 A46,23 118 0 0 492.2,265.7 L452.4,244.6 A46,23 118 0 0 409.2,325.8 Z"/><path class="d" d="M492.2,265.7 L502.6,283.7 L469.7,345.5 L449,347 Z" style="stroke-width:.9"/><path class="d" d="M469.7,345.5 L483.6,352.9 A35,17.5 118 0 0 516.4,291.1 L502.6,283.7 A35,17.5 118 0 0 469.7,345.5 Z"/><ellipse class="d" cx="500" cy="322" rx="35" ry="17.5" transform="rotate(118 500 322)"/><ellipse class="d" cx="500" cy="322" rx="17.5" ry="8.8" transform="rotate(118 500 322)"/><path class="t" d="M487,263 A46,23 -62 0 0 443.8,344.2"/><path class="t" d="M475.9,257.1 A46,23 -62 0 0 432.7,338.3"/><path class="t" d="M464.8,251.2 A46,23 -62 0 0 421.6,332.4"/>
<path class="d" d="M71.8,484.4 L277.7,593.9 A50,25 118 0 0 324.6,505.6 L118.7,396.1 A25,20 118 0 0 91.9,438.5 A25,20 118 0 1 71.8,484.4 Z"/><path class="dn" d="M227.8,454.2 A50,25 -62 0 0 180.9,542.5"/><path class="t" d="M266.4,551.7 L178.3,504.8"/><path class="t" d="M281.4,523.4 L189.8,474.7"/><path class="d" d="M266.4,615.1 L301,633.5 A74,37 118 0 0 370.5,502.9 L335.9,484.5 A74,37 118 0 0 266.4,615.1 Z"/><ellipse class="d" cx="335.8" cy="568.2" rx="74" ry="37" transform="rotate(118 335.8 568.2)"/><path class="t" d="M289.8,582.3 L255.2,563.8"/><path class="t" d="M318.1,524.8 L283.5,506.4"/><path class="d" d="M314.2,608.8 L354,630 A46,23 118 0 0 397.2,548.7 L357.4,527.6 A46,23 118 0 0 314.2,608.8 Z"/><path class="d" d="M397.2,548.7 L407.6,566.7 L374.7,628.5 L354,630 Z" style="stroke-width:.9"/><path class="d" d="M374.7,628.5 L388.6,635.9 A35,17.5 118 0 0 421.4,574.1 L407.6,566.7 A35,17.5 118 0 0 374.7,628.5 Z"/><ellipse class="d" cx="405" cy="605" rx="35" ry="17.5" transform="rotate(118 405 605)"/><ellipse class="d" cx="405" cy="605" rx="17.5" ry="8.8" transform="rotate(118 405 605)"/><path class="t" d="M392,546 A46,23 -62 0 0 348.8,627.2"/><path class="t" d="M380.9,540.1 A46,23 -62 0 0 337.7,621.3"/><path class="t" d="M369.8,534.2 A46,23 -62 0 0 326.6,615.4"/>
</g>
<text class="lbl" x="74.1" y="601.4">4</text>
<text class="lbl" x="45.8" y="666.8">3</text>
<text class="lbl" x="237.9" y="699.4">2</text>
<text class="lbl" x="221" y="768.9">1</text>
<g transform="translate(600,535) scale(0.16963)">
<path class="l" d="M868,122 L995,165 M868,122 L858,250 M705,208 L850,265 M310,315 L435,305 L380,385 M228,370 L180,470 M330,425 L290,520 M1045,280 L1120,385"/>
<path class="l" d="M455,592 L215,722 M765,690 L765,830"/>
<path class="d" d="M410,458 L707,282 L940,420 L940,548 L640,720 L410,590 Z" style="stroke-width:1.3"/>
<path class="t" d="M410,458 L640,590 L940,420 M640,590 L640,720"/>
<ellipse class="dn" cx="562" cy="437" rx="35" ry="20"/>
<ellipse class="dn" cx="562" cy="437" rx="18" ry="10"/>
<ellipse class="d" cx="470" cy="577" rx="36" ry="50" transform="rotate(-15 470 577)"/>
<ellipse class="dn" cx="474" cy="580" rx="24" ry="36" transform="rotate(-15 474 580)"/>
<path class="dn" d="M445,610 Q470,640 500,625"/>
<path class="d" d="M895,380 L960,352 L1010,372 L1025,395 L1025,440 L965,495 L940,480 L940,420 Z"/>
<path class="dn" d="M960,352 L975,400 L965,495 M975,400 L1025,395"/>
<path class="d" d="M1005,375 L1030,362 L1042,380 L1040,395 L1022,400"/>
<path class="d" d="M640,650 L590,615 L545,640 L500,680 L478,705 L478,722 L500,732 L545,728 L600,700 L640,690 Z"/>
<path class="dn" d="M545,640 Q560,680 545,728 M590,615 Q612,655 600,700 M500,680 Q510,705 500,732"/>
<ellipse class="dn" cx="482" cy="716" rx="8" ry="14"/>
<path class="d" d="M1026.1,247.2 L1076.1,222.2 A36,18 63.4 0 0 1043.9,157.8 L993.9,182.8 A36,18 63.4 0 0 1026.1,247.2 Z"/>
<path class="d" d="M1003.5,156.8 L963.5,178.8 A55,27.5 -118.8 0 0 1016.5,275.2 L1056.5,253.2 A55,27.5 -118.8 0 0 1003.5,156.8 Z"/><ellipse class="d" cx="990" cy="227" rx="55" ry="27.5" transform="rotate(-118.8 990 227)"/>
<path class="d" d="M980,185.1 L932,211.1 A42,23.1 -118.4 0 0 972,284.9 L1020,258.9 A42,23.1 -118.4 0 0 980,185.1 Z"/><ellipse class="d" cx="952" cy="248" rx="42" ry="23.1" transform="rotate(-118.4 952 248)"/><ellipse class="d" cx="952" cy="248" rx="21" ry="11.6" transform="rotate(-118.4 952 248)"/>
<path class="t" d="M965,215 L985,262 M980,207 L1000,254"/>
<ellipse cx="885" cy="293" rx="28" ry="40" transform="rotate(-20 885 293)" fill="#fff" stroke="#262626" stroke-width="1.4"/>
<path class="d" d="M1337.2,0.5 L1179.2,79.5 A33,16.5 -116.6 0 0 1208.8,138.5 L1366.8,59.5 A16.5,13.2 -116.6 0 0 1354.2,28.9 A16.5,13.2 -116.6 0 1 1337.2,0.5 Z"/>
<path class="dn" d="M1262,34 A33,16.5 62 0 1 1296,92"/>
<path class="t" d="M1210,85 L1272,52 M1222,108 L1284,76"/>
<path class="d" d="M1169.7,65.5 L1101.7,107.5 A50,29 -121.7 0 0 1154.3,192.5 L1222.3,150.5 A50,29 -121.7 0 0 1169.7,65.5 Z"/><ellipse class="d" cx="1128" cy="150" rx="50" ry="29" transform="rotate(-121.7 1128 150)"/><ellipse class="d" cx="1128" cy="150" rx="37.5" ry="21.7" transform="rotate(-121.7 1128 150)"/>
<path class="d" d="M469.8,177 L401.8,212 A18,9 -117.2 0 0 418.2,244 L486.2,209 A9,7.2 -117.2 0 0 479.2,192.4 A9,7.2 -117.2 0 1 469.8,177 Z"/>
<path class="d" d="M398,206.1 L354,230.1 A25,13.8 -118.6 0 0 378,273.9 L422,249.9 A25,13.8 -118.6 0 0 398,206.1 Z"/><ellipse class="d" cx="366" cy="252" rx="25" ry="13.8" transform="rotate(-118.6 366 252)"/><ellipse class="d" cx="366" cy="252" rx="16.2" ry="8.9" transform="rotate(-118.6 366 252)"/>
<path class="d" d="M205,325 L250,300 L285,300 L290,320 L262,335 L300,350 L300,372 L275,380 L240,365 L225,350 Z"/>
<path class="dn" d="M250,300 L262,335 L240,365 M262,335 L290,320"/>
<ellipse class="dn" cx="288" cy="362" rx="13" ry="17"/>
<ellipse cx="352" cy="402" rx="12" ry="21" transform="rotate(28 352 402)" fill="#fff" stroke="#262626" stroke-width="1.1"/>
</g>
<g transform="translate(580,640) scale(0.16963)">
<path class="l" d="M105,20 L250,75 M105,20 L118,150 M300,170 L330,320 M100,290 L50,380 M880,70 L880,290"/>
<path class="d" d="M225.3,183.1 L247.3,171.1 A32,17.6 61.4 0 0 216.7,114.9 L194.7,126.9 A32,17.6 61.4 0 0 225.3,183.1 Z"/>
<path class="d" d="M205.6,104.7 L157.6,130.7 A47,25.9 -118.4 0 0 202.4,213.3 L250.4,187.3 A47,25.9 -118.4 0 0 205.6,104.7 Z"/><ellipse class="d" cx="180" cy="172" rx="47" ry="25.9" transform="rotate(-118.4 180 172)"/>
<path class="d" d="M139.6,142.3 L77.6,186.3 A56,34.7 -125.4 0 0 142.4,277.7 L204.4,233.7 A56,34.7 -125.4 0 0 139.6,142.3 Z"/><ellipse class="d" cx="110" cy="232" rx="56" ry="34.7" transform="rotate(-125.4 110 232)"/><ellipse class="d" cx="110" cy="232" rx="40.3" ry="25" transform="rotate(-125.4 110 232)"/>
<path class="t" d="M150,150 L190,165 M205,215 L180,255"/>
<ellipse cx="292" cy="128" rx="29" ry="40" transform="rotate(-20 292 128)" fill="#fff" stroke="#262626" stroke-width="1.4"/>
<path class="d" d="M530,375 L838,198 L850,212 L862,196 L895,180 L1020,250 Q1055,280 1090,375 L745,585 L722,575 Q690,520 652,467 L530,395 Z" style="stroke-width:1.2"/>
<path class="dn" d="M530,378 L655,448 Q700,500 735,482 M738,482 L738,572"/>
<path class="t" d="M735,480 L1028,308 M748,500 L1040,330"/>
<ellipse class="dn" cx="880" cy="288" rx="16" ry="8"/>
<ellipse class="dn" cx="695" cy="393" rx="14" ry="8"/>
<ellipse class="d" cx="878" cy="573" rx="29" ry="16"/>
<ellipse class="dn" cx="878" cy="573" rx="12" ry="7"/>
<path class="d" d="M866,700 L866,640 A13,13 0 0 1 892,640 L892,700 Z"/>
<ellipse class="d" cx="880" cy="705" rx="26" ry="15"/>
<path class="t" d="M868,650 L890,650 M868,662 L890,662 M868,674 L890,674"/>
</g>
<g transform="translate(610,690) scale(0.14549)">
<ellipse class="d" cx="401" cy="447" rx="175" ry="288" transform="rotate(-29 401 447)"/>
<ellipse class="d" cx="372" cy="462" rx="192" ry="294" transform="rotate(-27 372 462)"/>
<ellipse class="dn" cx="401" cy="447" rx="175" ry="288" transform="rotate(-29 401 447)"/>
<path class="d" d="M577,538 L576,495 Q592,474 611,492 L613,538 Z"/>
<path class="t" d="M584,500 L584,535 M596,485 L597,535 M606,498 L606,535"/>
<path class="d" d="M548,540 L562,522 L628,514 L633,640 L612,665 L550,650 Z"/>
<path class="dn" d="M562,522 L566,654 M548,540 L566,545 L628,530"/>
</g>
<text class="lbl" x="739.1" y="550.3">28</text>
<text class="lbl" x="683.1" y="561.3">10</text>
<text class="lbl" x="703.8" y="573.7">29</text>
<text class="lbl" x="677.2" y="588.9">24</text>
<text class="lbl" x="786.3" y="612.2">30</text>
<text class="lbl" x="622.4" y="625.2">26</text>
<text class="lbl" x="642.1" y="635.4">25</text>
<text class="lbl" x="749.3" y="647.2">23</text>
<text class="lbl" x="785.4" y="540.2">11</text>
<text class="lbl" x="630" y="705.3">21</text>
<text class="lbl" x="581.4" y="717.5">22</text>
<text class="lbl" x="773.4" y="706.2">27</text>
<text class="lbl" x="612.2" y="748.2">33</text>
<text class="lbl" x="738.5" y="741.3">31</text>
<text class="lbl" x="723.3" y="776.6">32</text>
<text class="lbl" x="587.5" y="636.9">20</text>
<g transform="translate(1030,410) scale(0.16963)">
<path class="l" d="M685,170 L760,290 M970,290 L960,395 L815,365 M1000,580 L900,600 M1000,580 L990,640 M760,637 L855,628 M985,715 L1030,800 M80,0 L110,65"/>
<path class="l" d="M590,460 L860,610 M385,560 L90,725 M568,590 L568,830"/>
<path class="d" d="M585,240 L625,222 L660,232 L672,252 L650,275 L620,270 Z"/>
<path class="dn" d="M625,222 L640,250 L650,275 M640,250 L672,252"/>
<path class="d" d="M203,378 L503,200 L735,335 L735,468 L690,492 L690,498 L660,515 L660,508 L437,637 L203,510 Z" style="stroke-width:1.3"/>
<path class="t" d="M203,378 L437,505 L735,335 M437,505 L437,637"/>
<ellipse class="dn" cx="582" cy="352" rx="36" ry="20"/>
<ellipse class="dn" cx="582" cy="352" rx="20" ry="11"/>
<path class="t" d="M565,348 L600,356"/>
<ellipse class="d" cx="398" cy="548" rx="36" ry="50" transform="rotate(-20 398 548)"/>
<ellipse class="dn" cx="402" cy="550" rx="25" ry="38" transform="rotate(-20 402 550)"/>
<ellipse class="dn" cx="585" cy="452" rx="20" ry="32" transform="rotate(20 585 452)"/>
<ellipse class="dn" cx="582" cy="455" rx="12" ry="22" transform="rotate(20 582 455)"/>
<ellipse cx="264" cy="474" rx="74" ry="36" transform="rotate(64.6 264 474)" fill="#fff" stroke="#262626" stroke-width="2"/>
<path class="d" d="M238,423.2 L216,433.2 A58,29 -114.4 0 0 264,538.8 L286,528.8 A58,29 -114.4 0 0 238,423.2 Z"/><ellipse class="d" cx="240" cy="486" rx="58" ry="29" transform="rotate(-114.4 240 486)"/>
<path class="d" d="M213.1,422.3 L195.1,431.3 A69,34.5 -116.6 0 0 256.9,554.7 L274.9,545.7 A69,34.5 -116.6 0 0 213.1,422.3 Z"/><ellipse class="d" cx="226" cy="493" rx="69" ry="34.5" transform="rotate(-116.6 226 493)"/>
<path class="d" d="M199.2,436 L131.2,468 A63,31.5 -115.2 0 0 184.8,582 L252.8,550 A63,31.5 -115.2 0 0 199.2,436 Z"/><ellipse class="d" cx="158" cy="525" rx="63" ry="31.5" transform="rotate(-115.2 158 525)"/>
<path class="t" d="M215,440 L150,470 M245,548 L180,580 M232,465 L165,497"/>
<path class="d" d="M138.3,485.6 L118.3,495.6 A44,22 -116.6 0 0 157.7,574.4 L177.7,564.4 A44,22 -116.6 0 0 138.3,485.6 Z"/><ellipse class="d" cx="138" cy="535" rx="44" ry="22" transform="rotate(-116.6 138 535)"/>
<path class="d" d="M134.3,516.7 L100.3,532.7 A18,10.8 -115.2 0 0 115.7,565.3 L149.7,549.3 A18,10.8 -115.2 0 0 134.3,516.7 Z"/><ellipse class="d" cx="108" cy="549" rx="18" ry="10.8" transform="rotate(-115.2 108 549)"/><ellipse class="d" cx="108" cy="549" rx="10.8" ry="6.5" transform="rotate(-115.2 108 549)"/>
<ellipse cx="782" cy="323" rx="29" ry="40" transform="rotate(-20 782 323)" fill="#fff" stroke="#262626" stroke-width="1.4"/>
<path class="d" d="M933.1,305.3 L988.1,277.3 A62,37.2 63 0 0 931.9,166.7 L876.9,194.7 A62,37.2 63 0 0 933.1,305.3 Z"/>
<path class="d" d="M907,177.4 L872,194.4 A64,38.4 -115.9 0 0 928,309.6 L963,292.6 A64,38.4 -115.9 0 0 907,177.4 Z"/><ellipse class="d" cx="900" cy="252" rx="64" ry="38.4" transform="rotate(-115.9 900 252)"/>
<path class="d" d="M887.1,219.2 L847.1,239.2 A40,24.8 -116.6 0 0 882.9,310.8 L922.9,290.8 A40,24.8 -116.6 0 0 887.1,219.2 Z"/><ellipse class="d" cx="865" cy="275" rx="40" ry="24.8" transform="rotate(-116.6 865 275)"/><ellipse class="d" cx="865" cy="275" rx="30" ry="18.6" transform="rotate(-116.6 865 275)"/>
<ellipse class="dn" cx="868" cy="274" rx="22" ry="34" transform="rotate(-62 868 274)"/>
<path class="t" d="M905,190 L935,180 M955,275 L925,300"/>
<ellipse cx="875" cy="620" rx="11" ry="20" transform="rotate(28 875 620)" fill="#fff" stroke="#262626" stroke-width="1.1"/>
<path class="d" d="M905,640 L925,625 L950,632 L955,650 L990,660 L1005,680 L975,705 L935,715 L915,700 L940,670 L920,665 Z"/>
<path class="dn" d="M940,670 L955,650 M940,670 L975,705 M925,625 L935,650"/>
<ellipse class="dn" cx="920" cy="645" rx="13" ry="17"/>
<path class="d" d="M851.4,722 L759.4,775.1 A8.6,6.9 -120 0 0 766.9,790.6 A8.6,6.9 -120 0 1 776.6,804.9 L868.6,751.7 A17.2,8.6 -120 0 0 851.4,722 Z"/><path class="t" d="M828,775.2 A17.2,8.6 60 0 0 810.8,745.5"/><path class="t" d="M842.9,766.6 A17.2,8.6 60 0 0 825.7,736.9"/><path class="d" d="M867.8,705.7 L839.3,722.2 A23.1,11.6 -120 0 1 862.4,762.2 L890.9,745.7 A23.1,11.6 -120 0 0 867.8,705.7 Z"/>
</g>
<g transform="translate(960,520) scale(0.16963)">
<path class="l" d="M290,0 L430,50 M290,0 L375,215 L400,350 M485,150 L510,290 M505,75 L630,10 M980,30 L980,200"/>
<path class="dn" d="M590,415 L650,382" style="stroke-width:2"/>
<path class="d" d="M648,295 L945,122 L1128,228 Q1152,244 1138,262 L850,430 L800,450 Q785,453 770,445 L648,380 Z" style="stroke-width:1.2"/>
<path class="dn" d="M648,295 L845,412 L850,430 M845,412 L1130,245 M652,382 L722,343"/>
<path class="t" d="M856,418 L1135,256 M835,405 L1110,245"/>
<ellipse class="dn" cx="980" cy="207" rx="15" ry="8"/>
<ellipse class="dn" cx="795" cy="313" rx="14" ry="8"/>
<ellipse class="d" cx="978" cy="422" rx="28" ry="16"/>
<ellipse class="dn" cx="978" cy="422" rx="12" ry="7"/>
<path class="d" d="M967,555 L967,490 A13,13 0 0 1 993,490 L993,555 Z"/>
<ellipse class="d" cx="980" cy="560" rx="26" ry="15"/>
<path class="t" d="M968,500 L992,500 M968,512 L992,512 M968,524 L992,524"/>
<path class="d" d="M386.4,187.1 L431.4,164.1 A36,18 62.9 0 0 398.6,99.9 L353.6,122.9 A36,18 62.9 0 0 386.4,187.1 Z"/>
<path class="d" d="M364.3,99.7 L321.3,121.7 A52,26 -117.1 0 0 368.7,214.3 L411.7,192.3 A52,26 -117.1 0 0 364.3,99.7 Z"/><ellipse class="d" cx="345" cy="168" rx="52" ry="26" transform="rotate(-117.1 345 168)"/>
<path class="d" d="M338.4,124.9 L285.4,152.9 A42,23.1 -117.8 0 0 324.6,227.1 L377.6,199.1 A42,23.1 -117.8 0 0 338.4,124.9 Z"/><ellipse class="d" cx="305" cy="190" rx="42" ry="23.1" transform="rotate(-117.8 305 190)"/><ellipse class="d" cx="305" cy="190" rx="21" ry="11.6" transform="rotate(-117.8 305 190)"/>
<path class="t" d="M320,160 L338,200 M335,152 L352,192"/>
<ellipse cx="465" cy="103" rx="29" ry="40" transform="rotate(-20 465 103)" fill="#fff" stroke="#262626" stroke-width="1.4"/>
<path class="d" d="M135.8,248.1 L-27.3,317.3 A22.1,17.7 -113 0 0 -13.1,359.3 A22.1,17.7 -113 0 1 7.3,398.7 L170.4,329.4 A44.2,22.1 -113 0 0 135.8,248.1 Z"/><path class="t" d="M92.9,362.3 A44.2,22.1 67 0 0 58.3,281"/><path class="t" d="M117.7,351.8 A44.2,22.1 67 0 0 83.2,270.4"/><path class="d" d="M192.3,207.5 L104.8,244.6 A59.5,29.8 -113 0 1 151.3,354.2 L238.8,317 A59.5,29.8 -113 0 0 192.3,207.5 Z"/>
</g>
<g transform="translate(880,585) scale(0.16963)">
<path class="l" d="M485,228 L1150,45 M615,10 L700,150 M1195,460 L1240,465"/>
<path class="d" d="M138,320 L375,183 L452,225 L452,262 L215,400 L138,355 Z"/>
<path class="dn" d="M138,320 L215,365 L215,400"/>
<path class="t" d="M215,365 L452,225"/>
<ellipse class="d" cx="944" cy="369" rx="141" ry="258" transform="rotate(-32 944 369)"/>
<ellipse class="d" cx="902" cy="399" rx="155" ry="252" transform="rotate(-32 902 399)"/>
<ellipse class="dn" cx="944" cy="369" rx="141" ry="258" transform="rotate(-32 944 369)"/>
<path class="d" d="M1086,458 L1085,418 Q1100,398 1114,415 L1116,455 Z"/>
<path class="t" d="M1092,420 L1092,455 M1101,408 L1102,455 M1110,420 L1110,455"/>
<path class="d" d="M1062,462 L1074,445 L1132,438 L1137,545 L1118,567 L1065,556 Z"/>
<path class="dn" d="M1074,445 L1078,560 M1062,462 L1078,468 L1133,455"/>
</g>
<text class="lbl" x="1137.7" y="433.2">21</text>
<text class="lbl" x="1075" y="450.7">23</text>
<text class="lbl" x="1203" y="449.9">22</text>
<text class="lbl" x="1188.6" y="490.6">20</text>
<text class="lbl" x="1201.7" y="507">24</text>
<text class="lbl" x="1142.8" y="522.3">25</text>
<text class="lbl" x="1073.8" y="547.1">27</text>
<text class="lbl" x="1199.6" y="552.5">26</text>
<text class="lbl" x="1173.3" y="552">9</text>
<text class="lbl" x="964.2" y="559.9">7</text>
<text class="lbl" x="1039.4" y="580.7">29</text>
<text class="lbl" x="1021.1" y="593.3">30</text>
<text class="lbl" x="1136.6" y="594.6">31</text>
<text class="lbl" x="1121.2" y="630.6">32</text>
<text class="lbl" x="983.4" y="651.4">33</text>
<text class="lbl" x="990.8" y="518.4">28</text>
<text class="lbl" x="911.9" y="617.4">34</text>
<g transform="translate(500,170) scale(0.09693)">
<path class="d" d="M502,419.3 L187.9,597 A27.6,22 -119.5 0 0 211.4,647 A27.6,22 -119.5 0 1 242.1,693 L556.3,515.2 A55.1,27.6 -119.5 0 0 502,419.3 Z"/><path class="t" d="M418.6,593.1 A55.1,27.6 60.5 0 0 364.3,497.2"/><path class="t" d="M469.8,564.2 A55.1,27.6 60.5 0 0 415.5,468.2"/><path class="d" d="M552.7,368.7 L463.1,419.4 A74.2,37.1 -119.5 0 1 536.1,548.6 L625.8,497.8 A74.2,37.1 -119.5 0 0 552.7,368.7 Z"/>
</g>
<g transform="translate(840,60) scale(0.09693)">
<path class="d" d="M832.5,247.4 L572.5,397.4 A55,27.5 -120 0 0 627.5,492.6 L887.5,342.6 A27.5,22 -120 0 0 863.6,292.9 A27.5,22 -120 0 1 832.5,247.4 Z"/>
<path class="dn" d="M722,316 A55,27 60 0 1 770,408"/>
<path class="d" d="M561.6,377.1 L446.6,442.1 A78,46.8 -119.5 0 0 523.4,577.9 L638.4,512.9 A78,46.8 -119.5 0 0 561.6,377.1 Z"/><ellipse class="d" cx="485" cy="510" rx="78" ry="46.8" transform="rotate(-119.5 485 510)"/><ellipse class="d" cx="485" cy="510" rx="58.5" ry="35.1" transform="rotate(-119.5 485 510)"/>
</g>
<text class="lbl" x="546" y="197.4">8</text>
<text class="lbl" x="879.7" y="89.1">12</text>
<g fill="#5a5a5a"><rect x="1221" y="9.2" width="2.8" height="2.6"/><rect x="1224.3" y="7.2" width="4.2" height="2.4" fill="none" stroke="#5a5a5a" stroke-width="0.9"/><rect x="1232" y="9.3" width="2.4" height="2.4"/><rect x="1235.3" y="9.3" width="2.6" height="2.4"/><rect x="1239" y="9.3" width="2.6" height="2.4"/></g>
<text class="wm" transform="translate(116.2,621.9) rotate(-19.00)" x="-19.4 75.2 165.9 254.0 287.7 353.7 386.8 459.8 534.4 579.9 652.5 728.5 765.1 805.5 878.4 951.1 983.4 1050.2" y="0" font-size="114.3">www.sinhron-too.kz</text>
</svg>
</body></html>
